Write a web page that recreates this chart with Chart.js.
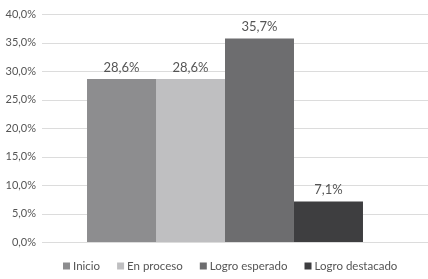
<!DOCTYPE html>
<html>
<head>
<meta charset="utf-8">
<script src="https://cdn.jsdelivr.net/npm/chart.js@4.4.1/dist/chart.umd.min.js"></script>
<style>
  html, body { margin: 0; padding: 0; background: #fff; }
  #wrap { width: 428px; height: 279px; }
</style>
</head>
<body>
<div id="wrap"><canvas id="c" width="428" height="279"></canvas></div>
<script>
// data
const categories = ['Inicio', 'En proceso', 'Logro esperado', 'Logro destacado'];
const percents = [28.6, 28.6, 35.7, 7.1];
const barColors = ['#8d8d8f', '#bfbfc1', '#6d6d6f', '#3e3e40'];
const yTicks = [0, 5, 10, 15, 20, 25, 30, 35, 40];

const FONT = 'Lato, "Open Sans", sans-serif';
const TEXT = '#555555';
const fmt = v => v.toFixed(1).replace('.', ',') + '%';

// horizontal gridlines run past the plot area to the right edge
const gridPlugin = {
  id: 'grid',
  beforeDatasetsDraw(chart) {
    const { ctx, chartArea, scales } = chart;
    ctx.save();
    ctx.strokeStyle = '#dcdcdc';
    ctx.lineWidth = 1;
    yTicks.forEach(t => {
      const y = Math.round(scales.y.getPixelForValue(t)) + 0.5;
      ctx.beginPath();
      ctx.moveTo(chartArea.left, y);
      ctx.lineTo(chart.width, y);
      ctx.stroke();
    });
    ctx.restore();
  }
};

const valueLabels = {
  id: 'valueLabels',
  afterDatasetsDraw(chart) {
    const { ctx } = chart;
    ctx.save();
    ctx.font = '13px ' + FONT;
    ctx.fillStyle = TEXT;
    ctx.textAlign = 'center';
    ctx.textBaseline = 'bottom';
    chart.data.datasets.forEach((ds, i) => {
      const bar = chart.getDatasetMeta(i).data[0];
      ctx.fillText(fmt(ds.data[0]), bar.x, bar.y - 5);
    });
    ctx.restore();
  }
};

// legend drawn by hand so it sits where the original does
const bottomLegend = {
  id: 'bottomLegend',
  afterDraw(chart) {
    const { ctx } = chart;
    ctx.save();
    ctx.font = '11.5px ' + FONT;
    ctx.textBaseline = 'middle';
    const box = 7, gapBox = 3, gapItem = 17;
    const items = chart.data.datasets.map(ds => ({ label: ds.label, color: ds.backgroundColor }));
    let x = 63;
    const y = 266;
    items.forEach(it => {
      ctx.fillStyle = it.color;
      ctx.fillRect(x, y - box / 2, box, box);
      x += box + gapBox;
      ctx.fillStyle = TEXT;
      ctx.fillText(it.label, x, y);
      x += ctx.measureText(it.label).width + gapItem;
    });
    ctx.restore();
  }
};

new Chart(document.getElementById('c'), {
  type: 'bar',
  data: {
    labels: [''],
    datasets: categories.map((c, i) => ({
      label: c,
      data: [percents[i]],
      backgroundColor: barColors[i],
      borderWidth: 0,
      categoryPercentage: 0.754,
      barPercentage: 1
    }))
  },
  options: {
    responsive: false,
    animation: false,
    layout: { padding: { top: 14, right: 20, bottom: 37, left: 0 } },
    plugins: { legend: { display: false }, tooltip: { enabled: false } },
    scales: {
      x: { display: false },
      y: {
        min: 0,
        max: 40,
        afterFit: s => { s.width = 42; },
        afterBuildTicks: s => { s.ticks = yTicks.map(v => ({ value: v })); },
        grid: { display: false, drawTicks: false },
        border: { display: false },
        ticks: {
          padding: 6,
          color: TEXT,
          font: { family: FONT, size: 11 },
          callback: v => fmt(v)
        }
      }
    }
  },
  plugins: [gridPlugin, valueLabels, bottomLegend]
});
</script>
</body>
</html>
